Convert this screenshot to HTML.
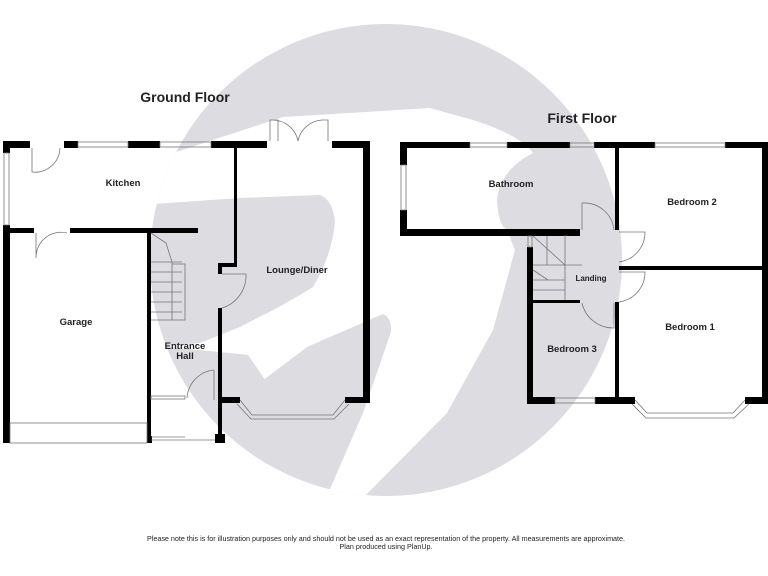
<!DOCTYPE html>
<html><head><meta charset="utf-8"><style>
html,body{margin:0;padding:0;background:#fff;width:768px;height:576px;overflow:hidden}
svg{display:block}
text{font-family:"Liberation Sans",Arial,sans-serif;fill:#222}
.r{font-size:9.5px;font-weight:bold;text-anchor:middle}
</style></head><body>
<svg width="768" height="576" viewBox="0 0 768 576" xmlns="http://www.w3.org/2000/svg">
<defs><clipPath id="c"><circle cx="386" cy="260" r="236"/></clipPath></defs>
<g clip-path="url(#c)">
<rect x="140" y="20" width="500" height="480" fill="#dcdce1"/>
<path fill="#fff" d="M173,153 L283,117 L430,108 L473,120 Q520,135 533,153 Q500,170 497,200 Q498,225 507,230 L515,250 L493,330 L447,413 L363,498 L330,490 L300,430 L248,355 L198,350 L150,345 L150,205 Z"/>
<path fill="#dcdce1" d="M140,205 L240,198 L320,195 Q333,200 335,222 Q332,255 313,287 L300,295 L277,308 L240,327 L200,343 L140,348 Z"/>
<path fill="#dcdce1" d="M140,350 L198,350 L248,355 L243,385 L237,400 L307,347 L383,314 Q392,318 391,332 L363,413 L330,489 L250,500 L140,500 Z"/>
</g>

<g fill="#000">
<rect x="3" y="141" width="27" height="7"/>
<rect x="64" y="141" width="14" height="7"/>
<rect x="128" y="141" width="32" height="7"/>
<rect x="211" y="141" width="56" height="7"/>
<rect x="332" y="141" width="38" height="7"/>
<rect x="363" y="141" width="7" height="262"/>
<rect x="3" y="141" width="7" height="12"/>
<rect x="3" y="225" width="7" height="218"/>
<rect x="10" y="228" width="24" height="5"/>
<rect x="70" y="228" width="128" height="5"/>
<rect x="147" y="233" width="4" height="210"/>
<rect x="234" y="148" width="3" height="118"/>
<rect x="218" y="263" width="19" height="4"/>
<rect x="218" y="263" width="4" height="11"/>
<rect x="218" y="308" width="4" height="135"/>
<rect x="215" y="434" width="10" height="9"/>
<rect x="147" y="436" width="5" height="7"/>
<rect x="222" y="397" width="18" height="6"/>
<rect x="345" y="397" width="25" height="6"/>
<rect x="400" y="142" width="70" height="6"/>
<rect x="507" y="142" width="63" height="6"/>
<rect x="594" y="142" width="61" height="6"/>
<rect x="725" y="142" width="44" height="6"/>
<rect x="400" y="142" width="7" height="23"/>
<rect x="400" y="210" width="7" height="26"/>
<rect x="400" y="229" width="180" height="7"/>
<rect x="615" y="148" width="4" height="82"/>
<rect x="527" y="247" width="6" height="157"/>
<rect x="533" y="300" width="47" height="3"/>
<rect x="619" y="266" width="150" height="4"/>
<rect x="762" y="142" width="7" height="262"/>
<rect x="615" y="302" width="4" height="102"/>
<rect x="527" y="397" width="28" height="7"/>
<rect x="595" y="397" width="40" height="7"/>
<rect x="745" y="397" width="24" height="7"/>
</g>
<g fill="none" stroke="#777" stroke-width="0.8">
<rect x="78" y="142" width="50" height="5"/>
<rect x="160" y="142" width="51" height="5"/>
<rect x="4" y="153" width="5" height="72"/>
<rect x="10" y="423" width="137" height="20"/>
<line x1="151" y1="440" x2="215" y2="440"/><line x1="151" y1="437" x2="185" y2="437"/>
<rect x="151" y="396" width="34" height="3"/>
<path d="M32 148 V172 A25 25 0 0 0 60 148"/>
<path d="M36 233 V258 A25 25 0 0 1 67 233"/>
<path d="M270 141 V120 H278 V141 M298 141 A26 26 0 0 0 272 120 M298 141 A26 26 0 0 1 322 120 H328 V141"/>
<path d="M222 274 H246 A34 34 0 0 1 222 308"/>
<path d="M214 370 V400 M214 370 A30 30 0 0 0 187 398"/>
<path d="M151 233 L166 243 L172 262 V320 H185 V264 H172 M151 262 H182 M151 272 H182 M151 282 H182 M151 292 H182 M151 302 H182 M151 312 H182 M151 320 H185"/>
<path d="M240 400 L252 415 H333 L345 400 M237 404 L251 419 H334 L349 404"/>
<rect x="470" y="143" width="37" height="4"/>
<rect x="570" y="143" width="24" height="4"/>
<rect x="655" y="143" width="70" height="4"/>
<rect x="401" y="165" width="5" height="45"/>
<rect x="528" y="236" width="4" height="11"/>
<rect x="555" y="398" width="40" height="5"/>
<path d="M635 400 L647 413 H733 L745 400 M632 404 L646 418 H734 L749 404"/>
<path d="M582 230 V203 A30 30 0 0 1 614 230"/>
<path d="M619 232 H645 A30 30 0 0 1 619 262"/>
<path d="M619 272 H645 A30 30 0 0 1 619 302"/>
<path d="M582 303 A32 32 0 0 0 614 328 V303"/>
<path d="M533 236 L565 265 V300 M565 235 V265 H582 M547 236 V265 M533 265 H565 M533 280 H565 M533 290 H565 M533 270 L548 280"/>
</g>
<text x="185" y="102" font-size="14" font-weight="bold" text-anchor="middle">Ground Floor</text>
<text x="582" y="123" font-size="14" font-weight="bold" text-anchor="middle">First Floor</text>
<text class="r" x="123" y="186">Kitchen</text>
<text class="r" x="76" y="325">Garage</text>
<text class="r" x="185" y="349">Entrance</text>
<text class="r" x="185" y="359">Hall</text>
<text class="r" x="297" y="273">Lounge/Diner</text>
<text class="r" x="511" y="187">Bathroom</text>
<text class="r" x="692" y="205">Bedroom 2</text>
<text x="591" y="281" font-size="8" font-weight="bold" text-anchor="middle">Landing</text>
<text class="r" x="690" y="330">Bedroom 1</text>
<text class="r" x="572" y="352">Bedroom 3</text>
<text x="386" y="541" font-size="7.2" text-anchor="middle">Please note this is for illustration purposes only and should not be used as an exact representation of the property. All measurements are approximate.</text>
<text x="386" y="549" font-size="7.2" text-anchor="middle">Plan produced using PlanUp.</text>
</svg>
</body></html>
